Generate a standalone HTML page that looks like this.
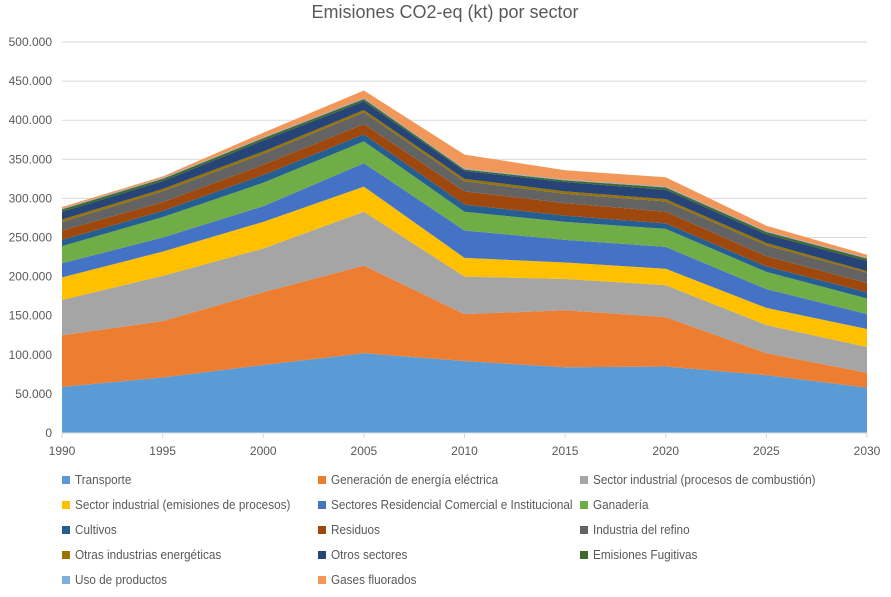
<!DOCTYPE html>
<html><head><meta charset="utf-8"><style>
body{margin:0;background:#fff;font-family:"Liberation Sans",sans-serif;}
svg text{font-family:"Liberation Sans",sans-serif;fill:#595959;}
</style></head><body>
<svg id="chart" width="891" height="592"></svg>
<script>
const years=[1990,1995,2000,2005,2010,2015,2020,2025,2030];
const yTicks=[0,50000,100000,150000,200000,250000,300000,350000,400000,450000,500000];
const yTickLabels=["0","50.000","100.000","150.000","200.000","250.000","300.000","350.000","400.000","450.000","500.000"];
const seriesNames=["Transporte","Generación de energía eléctrica","Sector industrial (procesos de combustión)","Sector industrial (emisiones de procesos)","Sectores Residencial Comercial e Institucional","Ganadería","Cultivos","Residuos","Industria del refino","Otras industrias energéticas","Otros sectores","Emisiones Fugitivas","Uso de productos","Gases fluorados"];
const sTransporte=[59000,71000,87000,102000,92000,84000,85000,74000,58000];
const sElectrica=[66000,72000,93000,112000,60000,73000,63000,28000,19000];
const sIndComb=[45000,58000,56000,69000,48000,40000,41000,36000,33000];
const sIndProc=[29000,31000,34000,32000,24000,21000,21000,22000,23000];
const sResid=[18000,18000,20000,30000,35000,29000,28000,24000,19000];
const sGanaderia=[22000,26000,30000,28000,24000,23000,23000,22000,20000];
const sCultivos=[8000,8000,10000,9000,9000,8000,7000,7000,8000];
const sResiduos=[12000,11000,13000,13000,17000,16000,15000,13000,12000];
const sRefino=[11000,14000,14000,15000,13000,12000,13000,14000,13000];
const sOtrasEn=[3000,3000,3000,3000,3000,3000,3000,3000,2000];
const sOtrosSect=[10000,10000,14000,11000,10000,12000,12000,11000,13000];
const sFugitivas=[3000,3000,3000,3000,2000,2000,3000,3000,3000];
const sUsoProd=[1000,1000,1000,1000,1000,1000,1000,1000,1000];
const sFluor=[2000,2000,6000,10000,18000,12000,12000,7000,4000];
const allSeries=[sTransporte,sElectrica,sIndComb,sIndProc,sResid,sGanaderia,sCultivos,sResiduos,sRefino,sOtrasEn,sOtrosSect,sFugitivas,sUsoProd,sFluor];
const colors=["#5b9bd5","#ed7d31","#a5a5a5","#ffc000","#4472c4","#70ad47","#255e91","#9e480e","#636363","#997300","#264478","#43682b","#7cafdd","#f1975a"];

const NS="http://www.w3.org/2000/svg";
const svg=document.getElementById('chart');
const X0=62,X1=867,Y0=433,Y1=42;
function xs(i){return X0+(X1-X0)*i/(years.length-1);}
function ys(v){return Y0-(Y0-Y1)*v/500000;}
function mk(t,a){const e=document.createElementNS(NS,t);for(const k in a)e.setAttribute(k,a[k]);svg.appendChild(e);return e;}

const title=mk('text',{x:445,y:18,'text-anchor':'middle','font-size':18});
title.textContent="Emisiones CO2-eq (kt) por sector";



yTicks.forEach((v,i)=>{
  if(i>0){const g=mk('line',{x1:X0,x2:X1,y1:ys(v),y2:ys(v),stroke:'#d9d9d9','stroke-width':1});
  
  }
  const t=mk('text',{x:52,y:ys(v)+4,'text-anchor':'end','font-size':12});
  t.textContent=yTickLabels[i];
  
  
});

let cum=years.map(()=>0);
allSeries.forEach((s,k)=>{
  const lower=cum.slice();
  cum=cum.map((c,i)=>c+s[i]);
  let d='';
  cum.forEach((c,i)=>{d+=(i?'L':'M')+xs(i)+','+ys(c);});
  for(let i=years.length-1;i>=0;i--)d+='L'+xs(i)+','+ys(lower[i]);
  const p=mk('path',{d:d+'Z',fill:colors[k],stroke:'none'});
  
  
});

mk('line',{x1:X0,x2:X1,y1:Y0,y2:Y0,stroke:'#d9d9d9'});
years.forEach((y,i)=>{
  mk('line',{x1:xs(i),x2:xs(i),y1:Y0,y2:Y0+5,stroke:'#d9d9d9'});
  const t=mk('text',{x:xs(i),y:455,'text-anchor':'middle','font-size':12});
  t.textContent=y;
  
  
});

const colX=[62,318,580];
seriesNames.forEach((n,k)=>{
  const cx=colX[k%3], cy=480+Math.floor(k/3)*25;
  const r=mk('rect',{x:cx,y:cy-4,width:8,height:8,fill:colors[k]});
  
  
  const tx=cx+13;
  const t=mk('text',{x:tx,y:cy+4,'font-size':12.5,transform:'translate('+tx+',0) scale(0.94,1) translate('+(-tx)+',0)'});
  t.textContent=n;
  
  
});
</script>
</body></html>
